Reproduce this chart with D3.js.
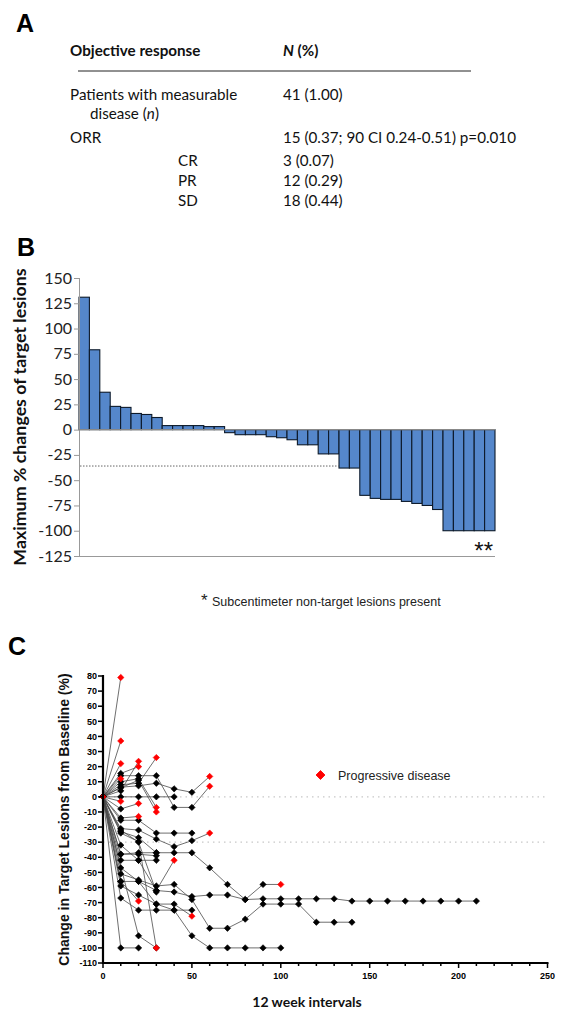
<!DOCTYPE html>
<html><head><meta charset="utf-8">
<script src="https://cdn.jsdelivr.net/npm/d3@7"></script>
<style>body{margin:0;background:#fff}svg{display:block}</style>
</head><body>
<svg id="c" width="579" height="1015"></svg>
<script>
// ---------- Panel A table ----------
const tableHeader = ["Objective response", "N (%)"];
const tableLabels = ["Patients with measurable", "disease (n)", "ORR", "CR", "PR", "SD"];
const tableValues = ["41 (1.00)", "", "15 (0.37; 90 CI 0.24-0.51) p=0.010", "3 (0.07)", "12 (0.29)", "18 (0.44)"];

// ---------- Panel B waterfall ----------
const bPatients = d3.range(1, 41);
const bMaxChange = [131, 79, 37, 23, 22, 16, 15, 12, 4, 4, 4, 4, 3, 3,
  -3, -5, -5, -5, -7, -8, -10, -15, -15, -24, -24, -38, -38,
  -65, -68, -69, -69, -71, -73, -75, -79, -100, -100, -100, -100, -100];
const bTicks = [150, 125, 100, 75, 50, 25, 0, -25, -50, -75, -100, -125];
const bPrLine = -36;

// ---------- Panel C spider ----------
const cVisits = d3.range(0, 220, 10);
const cChanges = [
  [0],
  [0, 79], [0, 37], [0, 22], [0, 12], [0, -3],
  [0, 15.5, 20], [0, 4, 23.5], [0, 10, 12, -7], [0, 6, 11, -10], [0, 8, 9, 26],
  [0, 14, 14, 14, -7, -7, 7], [0, 6.4, 7.3, 9, 5.3, 3, 13.5],
  [0, 0, 0, 0, 0], [0, -8, -4.4], [0, -14, -13],
  [0, -15.5, -15.5, -24, -24, -24], [0, -21, -22, -28, -33, -29, -24],
  [0, -23, -27, -37], [0, -38, -37, -37, -37, -37, -47, -58, -68, -58, -58],
  [0, -42, -42, -42], [0, -38, -38, -39], [0, -32, -42, -62, -42],
  [0, -56, -56, -62, -63, -66, -65, -65, -68, -67.5, -67.5, -67.5, -67.5, -67.5, -69, -69, -69, -69, -69, -69, -69, -69],
  [0, -51, -55, -59, -58, -68, -87, -87, -81, -71, -71, -71, -83, -83, -83],
  [0, -59, -65, -71, -75, -92, -100, -100, -100, -100, -100],
  [0, -67, -75, -75, -75, -75], [0, -47, -56, -71, -71, -79], [0, -56, -69],
  [0, -100, -100], [0, null, -92, -100], [0, -24, -29.6, -100], [0, -22, -30, -63]
];
const cProgressed = [true,
  true, true, true, true, true,
  true, true, true, true, true,
  true, true,
  false, true, true,
  false, true,
  false, true,
  false, false, true,
  false,
  false,
  false,
  false, true, true,
  false, true, false, false];
const cYTicks = d3.range(-110, 90, 10);
const cXTicks = [0, 50, 100, 150, 200, 250];
const cRefLines = [0, -30];

const svg = d3.select("#c");
const SANS = "'Liberation Sans', Arial, sans-serif";
const CAL = "Lato, 'Open Sans', sans-serif";

// ===== Panel A =====
svg.append("text").attr("x", 16).attr("y", 32).attr("font-family", SANS).attr("font-weight", "bold")
  .attr("font-size", 25).text("A");
const A = svg.append("g").attr("font-family", CAL).attr("font-size", 15.2).attr("fill", "#111");
A.append("text").attr("x", 70).attr("y", 56).attr("font-weight", "bold").text(tableHeader[0]);
const hd = A.append("text").attr("x", 283).attr("y", 56).attr("font-weight", "bold");
hd.append("tspan").attr("font-style", "italic").text(tableHeader[1].split(" ")[0]);
hd.append("tspan").text(" " + tableHeader[1].split(" ")[1]);
A.append("line").attr("x1", 78).attr("x2", 471).attr("y1", 71).attr("y2", 71).attr("stroke", "#222").attr("stroke-width", 1);
const rowY = [100, 119, 143, 166, 186, 206];
const rowX = [70, 90, 70, 178, 178, 178];
tableLabels.forEach((t, i) => {
  const tx = A.append("text").attr("x", rowX[i]).attr("y", rowY[i]);
  const m = t.match(/^(.*\()(n)(\).*)$/);
  if (m) { tx.append("tspan").text(m[1]); tx.append("tspan").attr("font-style", "italic").text(m[2]); tx.append("tspan").text(m[3]); }
  else tx.text(t);
  if (tableValues[i]) A.append("text").attr("x", 283).attr("y", rowY[i]).text(tableValues[i]);
});

// ===== Panel B =====
svg.append("text").attr("x", 17).attr("y", 256).attr("font-family", SANS).attr("font-weight", "bold")
  .attr("font-size", 25).text("B");
const bx = d3.scaleBand().domain(bPatients).range([79, 495]).padding(0);
const by = d3.scaleLinear().domain([-125, 150]).range([556, 278]);
const B = svg.append("g");
B.selectAll("rect").data(bMaxChange).join("rect")
  .attr("x", (d, i) => bx(bPatients[i]))
  .attr("width", bx.bandwidth())
  .attr("y", d => by(Math.max(0, d)))
  .attr("height", d => Math.abs(by(d) - by(0)))
  .attr("fill", "#5587cb").attr("stroke", "#0d1a2a").attr("stroke-width", 1.1);
// axes
B.append("line").attr("x1", 79.5).attr("x2", 79.5).attr("y1", by(150)).attr("y2", by(-125)).attr("stroke", "#999");
B.append("line").attr("x1", 79).attr("x2", 495).attr("y1", by(-125) + 0.5).attr("y2", by(-125) + 0.5).attr("stroke", "#999");
B.append("line").attr("x1", 79).attr("x2", 495).attr("y1", by(0)).attr("y2", by(0)).attr("stroke", "#888").attr("stroke-width", 1.2);
B.selectAll(".bt").data(bTicks).join("line").attr("class", "bt")
  .attr("x1", 74).attr("x2", 79).attr("y1", d => by(d) + 0.5).attr("y2", d => by(d) + 0.5).attr("stroke", "#999");
B.selectAll(".bl").data(bTicks).join("text").attr("class", "bl")
  .attr("x", 72).attr("y", d => by(d) + 5.5).attr("text-anchor", "end")
  .attr("font-family", CAL).attr("font-size", 16).attr("fill", "#222").text(d => d);
// PR threshold dotted line
const firstBelow = bMaxChange.findIndex(d => d <= bPrLine);
B.append("line").attr("x1", 80).attr("x2", bx(bPatients[firstBelow])).attr("y1", by(bPrLine)).attr("y2", by(bPrLine))
  .attr("stroke", "#666").attr("stroke-dasharray", "1.5,1.5").attr("stroke-width", 1);
B.append("text").attr("transform", `translate(26,${(by(150) + by(-125)) / 2}) rotate(-90)`)
  .attr("text-anchor", "middle").attr("font-family", CAL).attr("font-weight", "bold").attr("font-size", 17.8)
  .attr("fill", "#111").text("Maximum % changes of target lesions");
B.append("text").attr("x", 493).attr("y", 559).attr("text-anchor", "end").attr("font-family", SANS)
  .attr("font-size", 24).attr("fill", "#111").text("**");
const fn = svg.append("text").attr("x", 201).attr("y", 606).attr("font-family", SANS).attr("font-size", 12.5).attr("fill", "#222");
fn.append("tspan").attr("font-size", 17).attr("dy", 0).text("*");
fn.append("tspan").attr("x", 212).text("Subcentimeter non-target lesions present");

// ===== Panel C =====
svg.append("text").attr("x", 8).attr("y", 655).attr("font-family", SANS).attr("font-weight", "bold")
  .attr("font-size", 25).text("C");
const cx = d3.scaleLinear().domain([0, 250]).range([103, 547.5]);
const cy = d3.scaleLinear().domain([-110, 80]).range([963, 676]);
const C = svg.append("g");
C.selectAll(".ref").data(cRefLines).join("line").attr("class", "ref")
  .attr("x1", cx(0)).attr("x2", cx(250)).attr("y1", d => cy(d)).attr("y2", d => cy(d))
  .attr("stroke", "#c8c8c8").attr("stroke-width", 1.3).attr("stroke-dasharray", "1.5,4");
const pts = cChanges.map((arr, p) => arr.map((v, i) => ({ x: cVisits[i], y: v, p, last: i === arr.length - 1 }))
  .filter(d => d.y !== null));
const line = d3.line().x(d => cx(d.x)).y(d => cy(d.y));
C.selectAll(".traj").data(pts).join("path").attr("class", "traj").attr("d", line)
  .attr("fill", "none").attr("stroke", "#4a4a4a").attr("stroke-width", 0.8);
const allPts = pts.flat();
const sym = d3.symbol().type(d3.symbolSquare).size(20);
const isRed = d => d.last && cProgressed[d.p];
C.selectAll(".pt").data(allPts.filter(d => !isRed(d))).join("path").attr("class", "pt")
  .attr("transform", d => `translate(${cx(d.x)},${cy(d.y)}) rotate(45)`).attr("d", sym).attr("fill", "#000")
  .attr("stroke", "#000").attr("stroke-width", 0.6).attr("stroke-linejoin", "round");
C.selectAll(".pd").data(allPts.filter(isRed)).join("path").attr("class", "pd")
  .attr("transform", d => `translate(${cx(d.x)},${cy(d.y)}) rotate(45)`).attr("d", sym).attr("fill", "#f00")
  .attr("stroke", "#f00").attr("stroke-width", 0.6).attr("stroke-linejoin", "round");
// axes
C.append("line").attr("x1", cx(0)).attr("x2", cx(0)).attr("y1", cy(80) - 1).attr("y2", cy(-110) + 1)
  .attr("stroke", "#000").attr("stroke-width", 2.2);
C.append("line").attr("x1", cx(0) - 1).attr("x2", cx(250) + 1).attr("y1", cy(-110)).attr("y2", cy(-110))
  .attr("stroke", "#000").attr("stroke-width", 2.2);
C.selectAll(".yt").data(cYTicks).join("line").attr("class", "yt")
  .attr("x1", cx(0) - 5).attr("x2", cx(0)).attr("y1", d => cy(d)).attr("y2", d => cy(d)).attr("stroke", "#000").attr("stroke-width", 1.5);
C.selectAll(".yl").data(cYTicks).join("text").attr("class", "yl")
  .attr("x", cx(0) - 6).attr("y", d => cy(d) + 3.2).attr("text-anchor", "end")
  .attr("font-family", SANS).attr("font-weight", "bold").attr("font-size", 9).text(d => d);
C.selectAll(".xm").data(d3.range(0, 260, 10)).join("line").attr("class", "xm")
  .attr("x1", d => cx(d)).attr("x2", d => cx(d)).attr("y1", cy(-110)).attr("y2", d => cy(-110) + (d % 50 === 0 ? 5 : 3))
  .attr("stroke", "#000").attr("stroke-width", 1.5);
C.selectAll(".xl").data(cXTicks).join("text").attr("class", "xl")
  .attr("x", d => cx(d)).attr("y", 979).attr("text-anchor", "middle")
  .attr("font-family", SANS).attr("font-weight", "bold").attr("font-size", 9).text(d => d);
C.append("text").attr("x", 307).attr("y", 1007).attr("text-anchor", "middle").attr("font-family", CAL)
  .attr("font-weight", "bold").attr("font-size", 14).attr("fill", "#111").text("12 week intervals");
C.append("text").attr("transform", `translate(69,${(cy(80) + cy(-110)) / 2}) rotate(-90)`)
  .attr("text-anchor", "middle").attr("font-family", SANS).attr("font-weight", "bold").attr("font-size", 14)
  .attr("fill", "#111").text("Change in Target Lesions from Baseline (%)");
// legend
C.append("path").attr("transform", "translate(320.5,775) rotate(45)").attr("d", d3.symbol().type(d3.symbolSquare).size(40))
  .attr("fill", "#f00").attr("stroke", "#f00").attr("stroke-width", 0.8).attr("stroke-linejoin", "round");
C.append("text").attr("x", 338).attr("y", 779.5).attr("font-family", SANS).attr("font-size", 12.5).attr("fill", "#222").text("Progressive disease");
</script>
</body></html>
